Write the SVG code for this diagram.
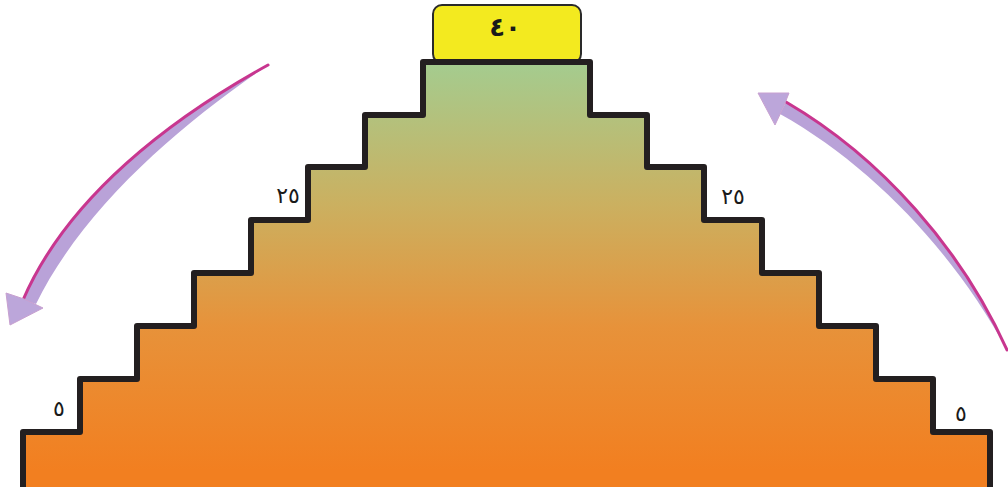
<svg xmlns="http://www.w3.org/2000/svg" width="1008" height="487" viewBox="0 0 1008 487">
<defs>
<linearGradient id="pyr" gradientUnits="userSpaceOnUse" x1="0" y1="62" x2="0" y2="470">
<stop offset="0" stop-color="#a4cc8f"/>
<stop offset="0.35" stop-color="#cbb060"/>
<stop offset="0.65" stop-color="#e7923a"/>
<stop offset="1" stop-color="#f27f20"/>
</linearGradient>
<style>
.lbl{font-family:"DejaVu Sans",sans-serif;fill:#1a1a1a;text-anchor:middle}
.body{fill:#b9a2d8}
.edge{fill:none;stroke:#c8368f;stroke-width:3;stroke-linecap:round}
.head{fill:#bca6da;stroke:#c8a0d0;stroke-width:1}
</style>
</defs>
<rect width="1008" height="487" fill="#ffffff"/>
<g id="top-box">
<rect x="433" y="5" width="148" height="58" rx="9" fill="#f3ea1f" stroke="#2a2a2a" stroke-width="2"/>
<text class="lbl" x="505" y="36" font-size="26" font-weight="bold">٤٠</text>
</g>
<g id="pyramid">
<path d="M23,490 L23,432 L80,432 L80,379 L137,379 L137,326 L194,326 L194,273 L251,273 L251,220 L308,220 L308,167 L365,167 L365,115 L423,115 L423,62 L590,62 L590,115 L647,115 L647,167 L704,167 L704,220 L762,220 L762,273 L819,273 L819,326 L876,326 L876,379 L933,379 L933,432 L990,432 L990,490 Z" fill="url(#pyr)" stroke="#231f20" stroke-width="6" stroke-linejoin="round"/>
</g>
<g id="labels">
<text class="lbl" x="59" y="416" font-size="22">٥</text>
<text class="lbl" x="961" y="421" font-size="22">٥</text>
<text class="lbl" x="288" y="203" font-size="22">٢٥</text>
<text class="lbl" x="733" y="204" font-size="22">٢٥</text>
</g>
<g id="connectors">
<g id="arrow-left">
<path class="body" d="M268,65 C172,118 68,196 23,300 L36,304 C84,206 182,124 268,65 Z"/>
<path class="edge" d="M268,65 C172,118 68,196 23,300"/>
<path class="head" d="M10,325 L6,293 L24,299 L43,308 Z"/>
</g>
<g id="arrow-right">
<path class="body" d="M1007,350 C962,250 882,158 786,102 L780,114 C873,166 955,254 1007,350 Z"/>
<path class="edge" d="M1007,350 C962,250 882,158 786,102"/>
<path class="head" d="M758,93 L789,93 L783,108 L775,125 Z"/>
</g>
</g>
</svg>
